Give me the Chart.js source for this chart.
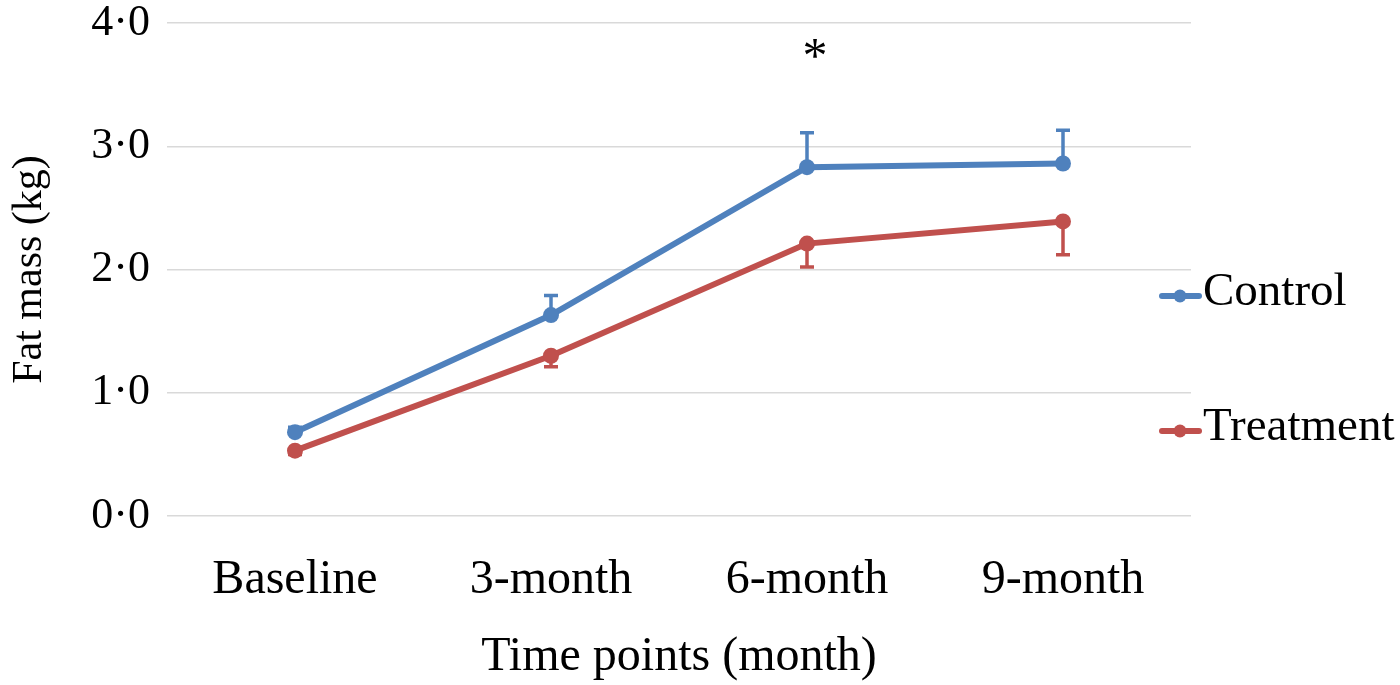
<!DOCTYPE html>
<html>
<head>
<meta charset="utf-8">
<script src="https://cdn.jsdelivr.net/npm/chart.js@4"></script>
<style>
  html, body { margin: 0; padding: 0; background: #ffffff; }
  #wrap { width: 1400px; height: 685px; }
</style>
</head>
<body>
<div id="wrap"><canvas id="fatChart"></canvas></div>
<script>
// Categories on the x axis
const timePoints = ['Baseline', '3-month', '6-month', '9-month'];
// Mean fat mass (kg) for each group
const controlValues = [0.68, 1.63, 2.83, 2.86];
const treatmentValues = [0.53, 1.30, 2.21, 2.39];
// Error bars: control drawn upwards, treatment drawn downwards
const controlErrUp = [0.04, 0.16, 0.28, 0.27];
const treatmentErrDown = [0.03, 0.09, 0.19, 0.27];
// Y tick values
const yTicks = [0, 1, 2, 3, 4];
// Significance marks
const sigLabels = ['6-month'];
const sigValues = [3.8];

const blue = '#4f81bd';
const red = '#c0504d';
const serif = "'Liberation Serif', 'DejaVu Serif', serif";

// Draws the vertical error bars with a flat cap
const errorBars = {
  id: 'errorBars',
  beforeDatasetsDraw(chart) {
    const ctx = chart.ctx;
    const x = chart.scales.x;
    const y = chart.scales.y;
    const sets = [
      { vals: controlValues, err: controlErrUp, dir: 1, color: blue },
      { vals: treatmentValues, err: treatmentErrDown, dir: -1, color: red },
    ];
    ctx.save();
    ctx.lineWidth = 3.5;
    sets.forEach((s) => {
      ctx.strokeStyle = s.color;
      s.vals.forEach((v, i) => {
        const px = x.getPixelForValue(i);
        const y0 = y.getPixelForValue(v);
        const y1 = y.getPixelForValue(v + s.dir * s.err[i]);
        ctx.beginPath();
        ctx.moveTo(px, y0);
        ctx.lineTo(px, y1);
        ctx.moveTo(px - 7, y1);
        ctx.lineTo(px + 7, y1);
        ctx.stroke();
      });
    });
    ctx.restore();
  },
  afterDraw(chart) {
    // asterisk over the significant time point
    const ctx = chart.ctx;
    ctx.save();
    ctx.fillStyle = '#000';
    ctx.font = '50px ' + serif;
    ctx.textAlign = 'center';
    ctx.textBaseline = 'alphabetic';
    sigLabels.forEach((lab, i) => {
      const px = chart.scales.x.getPixelForValue(timePoints.indexOf(lab));
      const py = chart.scales.y.getPixelForValue(sigValues[i]);
      ctx.fillText('*', px + 8, py + 24);
    });
    ctx.restore();
  },
};

// Excel style legend: short line with a dot, then the label
const sideLegend = {
  id: 'sideLegend',
  afterDraw(chart) {
    const ctx = chart.ctx;
    const rows = [293, 428];
    ctx.save();
    chart.data.datasets.forEach((ds, i) => {
      const cy = rows[i] + 3;
      ctx.strokeStyle = ds.borderColor;
      ctx.fillStyle = ds.borderColor;
      ctx.lineWidth = 6;
      ctx.lineCap = 'round';
      ctx.beginPath();
      ctx.moveTo(1162, cy);
      ctx.lineTo(1199, cy);
      ctx.stroke();
      ctx.beginPath();
      ctx.arc(1180, cy, 6.5, 0, Math.PI * 2);
      ctx.fill();
      ctx.fillStyle = '#000';
      ctx.font = '47px ' + serif;
      ctx.textBaseline = 'middle';
      ctx.textAlign = 'left';
      ctx.fillText(ds.label, 1203, rows[i]);
    });
    ctx.restore();
  },
};

new Chart(document.getElementById('fatChart'), {
  type: 'line',
  plugins: [errorBars, sideLegend],
  data: {
    labels: timePoints,
    datasets: [
      {
        label: 'Control',
        data: controlValues,
        borderColor: blue,
        backgroundColor: blue,
        borderWidth: 6,
        pointRadius: 8,
        pointHoverRadius: 8,
        pointBorderWidth: 0,
      },
      {
        label: 'Treatment',
        data: treatmentValues,
        borderColor: red,
        backgroundColor: red,
        borderWidth: 6,
        pointRadius: 8,
        pointHoverRadius: 8,
        pointBorderWidth: 0,
      },
    ],
  },
  options: {
    responsive: true,
    maintainAspectRatio: false,
    animation: false,
    layout: { padding: { left: 0, right: 209, top: 23, bottom: 0 } },
    plugins: {
      legend: { display: false },
      tooltip: { enabled: false },
    },
    scales: {
      x: {
        offset: true,
        grid: { display: false, drawTicks: false },
        border: { display: false },
        ticks: {
          color: '#000',
          padding: 36,
          font: { family: serif, size: 48 },
        },
        title: {
          display: true,
          text: 'Time points (month)',
          color: '#000',
          padding: { top: 0, bottom: 0 },
          font: { family: serif, size: 48, lineHeight: 1.15 },
        },
        afterFit(scale) {
          scale.height = 169;
          scale.paddingLeft = 0;
          scale.paddingRight = 0;
        },
      },
      y: {
        min: 0,
        max: 4,
        grid: { color: '#d9d9d9', lineWidth: 1.5, drawTicks: false },
        border: { display: false },
        afterBuildTicks(scale) {
          scale.ticks = yTicks.map((v) => ({ value: v }));
        },
        ticks: {
          color: '#000',
          padding: 17,
          font: { family: serif, size: 44 },
          callback: (v) => v.toFixed(1).replace('.', '\u00b7'),
        },
        title: {
          display: true,
          text: 'Fat mass (kg)',
          color: '#000',
          padding: { top: 5, bottom: 0 },
          font: { family: serif, size: 42 },
        },
        afterFit(scale) {
          scale.width = 167;
          scale.paddingTop = 0;
          scale.paddingBottom = 0;
        },
      },
    },
  },
});
</script>
</body>
</html>
